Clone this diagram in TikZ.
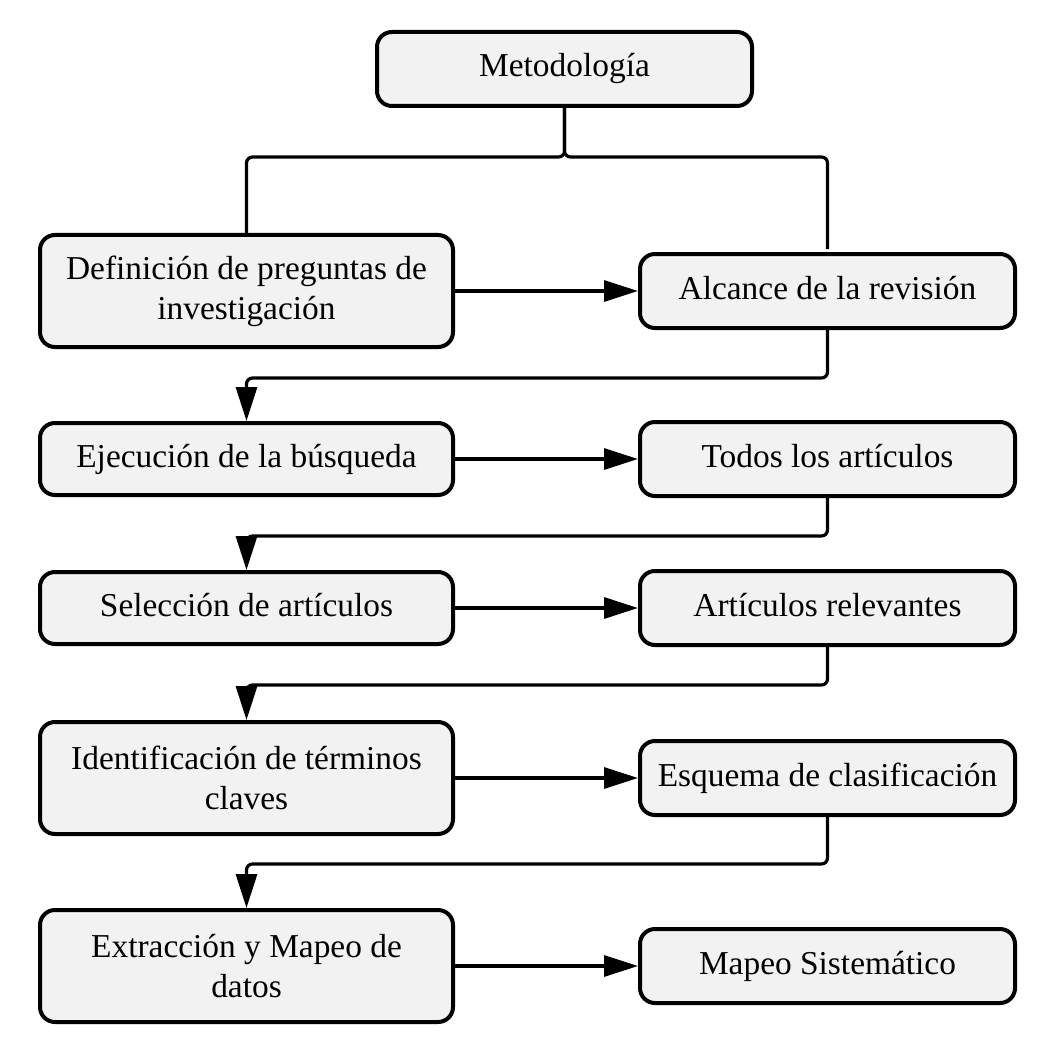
\documentclass[tikz,border=0pt]{standalone}
\usepackage{fontspec}
\setmainfont{Liberation Serif}
\usetikzlibrary{arrows.meta}

\begin{document}
\begin{tikzpicture}[x=0.5pt,y=-0.5pt,
        caja/.style={draw,line width=2pt,rounded corners=7.5pt,fill=black!5,align=center,inner sep=0pt,font=\fontsize{16.7}{20}\selectfont},
        izq/.style={caja,minimum width=206.5pt,minimum height=36pt},
        der/.style={caja,minimum width=187.5pt,minimum height=37pt,text height=11.5pt,text depth=3.5pt},
        linea/.style={line width=1.6pt,rounded corners=3pt},
        flecha/.style={linea,-{Triangle[length=17pt,width=10.5pt]}}]
            \useasboundingbox (0,0) rectangle (1058,1059);
            \node[der] (metodo) at (564.5,69) {Metodología};
            \node[izq,minimum height=56pt] (defin) at (246.5,291) {Definición de preguntas de\\investigación};
            \node[der] (alcance) at (827.5,291) {Alcance de la revisión};
            \node[izq,text height=11.5pt,text depth=3.5pt] (ejec) at (246.5,459) {Ejecución de la búsqueda};
            \node[der] (todos) at (827.5,459) {Todos los artículos};
            \node[izq,text height=11.5pt,text depth=3.5pt] (selec) at (246.5,608) {Selección de artículos};
            \node[der] (relev) at (827.5,608) {Artículos relevantes};
            \node[izq,minimum height=56pt] (ident) at (246.5,778) {Identificación de términos\\claves};
            \node[der] (esquema) at (827.5,778) {Esquema de clasificación};
            \node[izq,minimum height=56pt] (extr) at (246.5,966) {Extracción y Mapeo de\\datos};
            \node[der] (mapeo) at (827.5,966) {Mapeo Sistemático};

            \coordinate (rama) at (564.5,157);
            \draw[linea] (metodo.south) -- (rama) -| (defin.north);
            \draw[linea,shorten >=1.5pt] (metodo.south) -- (rama) -| (alcance.north);

            \foreach \a/\b in {defin/alcance,ejec/todos,selec/relev,ident/esquema,extr/mapeo}
                \draw[flecha] (\a) -- (\b);

            \draw[flecha] (alcance.south) -- ++(0,48) -| (ejec.north);
            \draw[flecha] (todos.south) -- ++(0,38) -| (selec.north);
            \draw[flecha] (relev.south) -- ++(0,38) -| (ident.north);
            \draw[flecha] (esquema.south) -- ++(0,47) -| (extr.north);
        \end{tikzpicture}
\end{document}
